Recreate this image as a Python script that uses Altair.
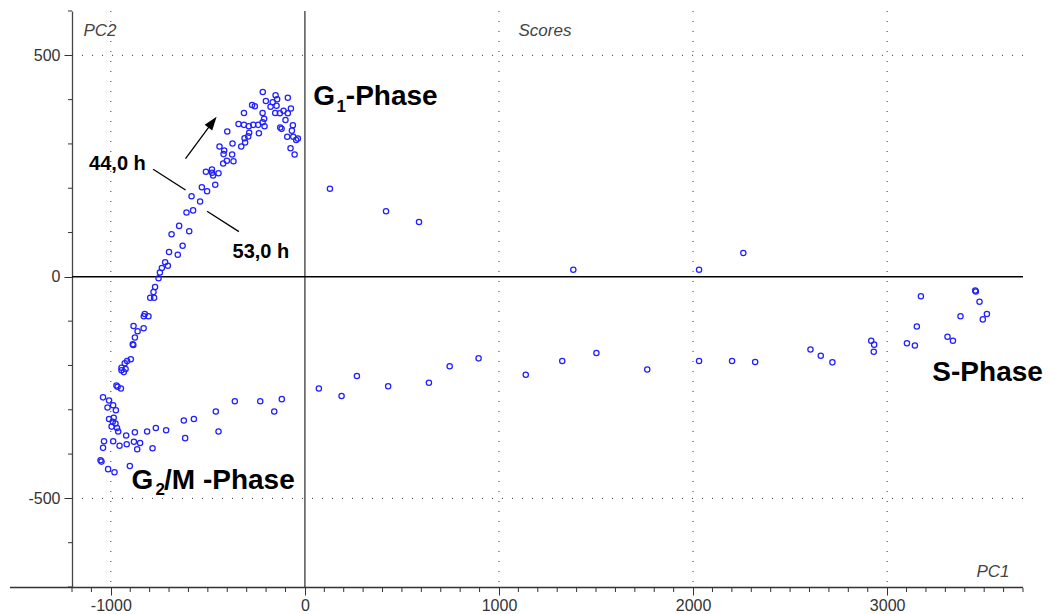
import altair as alt
import pandas as pd

# PCA scores
pc1 = [-217, -151, -88, -143, -201, -166, -272, -258, -177, -146,
       -72, -110, -314, -218, -153, -129, -88, -210, -100, -218,
       -342, -314, -289, -266, -241, -208, -127, -62, -400, -287,
       -237, -67, -120, -91, -60, -292, -311, -45, -36, -308,
       -373, -328, -440, -74, -416, -53, -375, -419, -402, -368,
       -421, -510, -479, -478, -445, -473,
       -462, -531, -504, -584, -540, -576, -610, -648, -596, -687,
       -630, -700, -655, -720, -706, -737, -747, -754, -772,
       -780, -797, -777, -825, -830, -806, -883, -831, -862, -876,
       -887, -884, -897, -916, -928, -945, -924, -933, -945,
       -971, -965, -948, -1040, -1009, -988, -1017, -974, -1009, -985,
       -990, -976, -996, -968, -962, -921, -876, -813, -768, -715,
       -624, -572, -459, -361, -230, -119, -158, -445, -617, -785,
       -849, -881, -918, -955, -988, -1035, -1040, -864, -1053, -1048,
       -1014, -981, -902,
       72, 189, 268, 429, 639, 746, 895, 1138, 1326, 1502,
       1764, 2031, 2201, 2320, 2605, 2658, 2718, 2918, 2933, 2931,
       3102, 3143, 3153, 3174, 3311, 3339, 3378, 3454, 3457, 3476,
       3493, 3514,
       129, 418, 588, 1383, 2031, 2259]
pc2 = [417, 410, 404, 401, 397, 394, 388, 385, 384, 386,
       380, 375, 370, 370, 370, 369, 369, 357, 354, 349,
       345, 343, 340, 343, 343, 340, 337, 342, 328, 325,
       324, 330, 334, 316, 316, 317, 313, 309, 312, 303,
       301, 294, 294, 290, 285, 276, 276, 277, 262, 261,
       256, 237, 242, 235, 234, 229,
       208, 202, 193, 182, 170, 150, 145, 115, 103, 96,
       70, 56, 50, 33, 25, 20, 10, -3, -23,
       -34, -47, -47, -84, -89, -89, -111, -116, -123, -137,
       -152, -154, -186, -190, -195, -205, -208, -215, -211,
       -245, -248, -252, -272, -279, -290, -295, -301, -321, -318,
       -327, -331, -338, -341, -349, -358, -351, -349, -341, -346,
       -324, -321, -304, -281, -281, -276, -304, -349, -364, -387,
       -375, -372, -378, -381, -371, -371, -386, -389, -414, -417,
       -434, -441, -427,
       -252, -269, -224, -247, -239, -202, -184, -221, -190, -172,
       -209, -190, -190, -192, -164, -178, -193, -144, -153, -169,
       -150, -155, -112, -44, -135, -144, -89, -31, -33, -56,
       -96, -84,
       199, 148, 124, 16, 16, 54]

x_major = [-1000, 0, 1000, 2000, 3000]
y_major = [-500, 0, 500]
x_grid = [-1000, 1000, 2000, 3000]
y_grid = [500, -500]
x_minor = [v for v in range(-1200, 3701, 100) if v % 1000 != 0]
y_minor = [v for v in range(-700, 601, 100) if v % 500 != 0]

FONT = "Liberation Sans"
xs = alt.Scale(domain=[-1200, 3700], nice=False, zero=False)
ys = alt.Scale(domain=[-700, 600], nice=False, zero=False)

AX = alt.Axis(
    values=x_major, title=None, grid=False, domain=False, tickSize=8,
    tickColor="#333333", tickWidth=1, labelFont=FONT, labelFontSize=16,
    labelColor="#333333", labelPadding=2, labelExpr="'' + datum.value")
AY = alt.Axis(
    values=y_major, title=None, grid=False, domain=True, domainColor="#444444",
    domainWidth=1.3, tickSize=8, tickColor="#333333", tickWidth=1,
    labelFont=FONT, labelFontSize=16, labelColor="#333333", labelPadding=4,
    labelExpr="'' + datum.value")

df = pd.DataFrame({"pc1": pc1, "pc2": pc2})


def X(f, **kw):
    return alt.X(f, type="quantitative", scale=xs, axis=AX, **kw)


def Y(f, **kw):
    return alt.Y(f, type="quantitative", scale=ys, axis=AY, **kw)


points = alt.Chart(df).mark_point(
    shape="circle", filled=False, size=28, strokeWidth=1.25, color="#2020ff", opacity=1
).encode(x=X("pc1"), y=Y("pc2"))

vgrid = alt.Chart(pd.DataFrame({"g": x_grid})).mark_rule(
    strokeDash=[1, 9], color="#333333", strokeWidth=1).encode(x=X("g"))
hgrid = alt.Chart(pd.DataFrame({"g": y_grid})).mark_rule(
    strokeDash=[1, 9], color="#333333", strokeWidth=1).encode(y=Y("g"))

zero_v = alt.Chart(pd.DataFrame({"z": [0]})).mark_rule(
    color="#555555", strokeWidth=1.5).encode(x=X("z"))
zero_h = alt.Chart(pd.DataFrame({"z": [0]})).mark_rule(
    color="#000000", strokeWidth=1.5).encode(y=Y("z"))

x_axis_line = alt.Chart(pd.DataFrame({"a": [0]})).mark_rule(
    color="#333333", strokeWidth=1.3).encode(
    x=alt.value(-62), x2=alt.value(951), y=alt.value(576.5))

xminor = alt.Chart(pd.DataFrame({"m": x_minor})).mark_rule(
    color="#333333", strokeWidth=1).encode(x=X("m"), y=alt.value(577), y2=alt.value(581))
yminor = alt.Chart(pd.DataFrame({"m": y_minor})).mark_rule(
    color="#333333", strokeWidth=1).encode(y=Y("m"), x=alt.value(-4), x2=alt.value(0))

# annotation lines and arrow
lines_df = pd.DataFrame({"x1": [-782, -504, -615], "y1": [243, 148, 267],
                         "x2": [-615, -340, -476], "y2": [196, 102, 349]})
ann_lines = alt.Chart(lines_df).mark_rule(color="#000000", strokeWidth=1.3).encode(
    x=X("x1"), y=Y("y1"), x2="x2:Q", y2="y2:Q")
arrow_head = alt.Chart(pd.DataFrame({"x": [-476], "y": [349]})).mark_point(
    shape="M0,-1L-0.7,1L0.7,1Z", filled=True, color="#000000", size=182, angle=37,
    opacity=1).encode(x=X("x"), y=Y("y"))


def txt(x, y, s, size, weight="bold", color="#000000"):
    return alt.Chart(pd.DataFrame({"x": [x], "y": [y], "t": [s]})).mark_text(
        align="left", baseline="alphabetic", font=FONT, fontSize=size,
        fontWeight=weight, color=color
    ).encode(x=X("x"), y=Y("y"), text="t:N")


labels = [
    txt(43, 388, "G", 28),
    txt(163, 373, "1", 17),
    txt(211, 388, "-Phase", 28),
    txt(-893, -478, "G", 28),
    txt(-770, -492, "2", 17),
    txt(-726, -478, "/M -Phase", 28),
    txt(3233, -235, "S-Phase", 28),
    txt(-1112, 241, "44,0 h", 20),
    txt(-373, 42, "53,0 h", 20),
]


def ptxt(x, y, s):
    return alt.Chart(pd.DataFrame({"t": [s]})).mark_text(
        align="left", baseline="alphabetic", font=FONT, fontSize=17,
        fontStyle="italic", color="#444444").encode(
        x=alt.value(x), y=alt.value(y), text="t:N")


titles = [ptxt(11.5, 25, "PC2"), ptxt(446.5, 25, "Scores"), ptxt(904.5, 566, "PC1")]

chart = alt.layer(
    vgrid, hgrid, zero_v, zero_h, x_axis_line, xminor, yminor,
    ann_lines, arrow_head, *labels, *titles, points
).properties(
    width=951, height=576,
    autosize=alt.AutoSizeParams(type="none"),
    padding={"left": 72, "top": 11, "right": 27, "bottom": 27},
    background="white",
).configure_view(stroke=None)

chart.save("out.html", embed_options={"renderer": "svg", "actions": False})
